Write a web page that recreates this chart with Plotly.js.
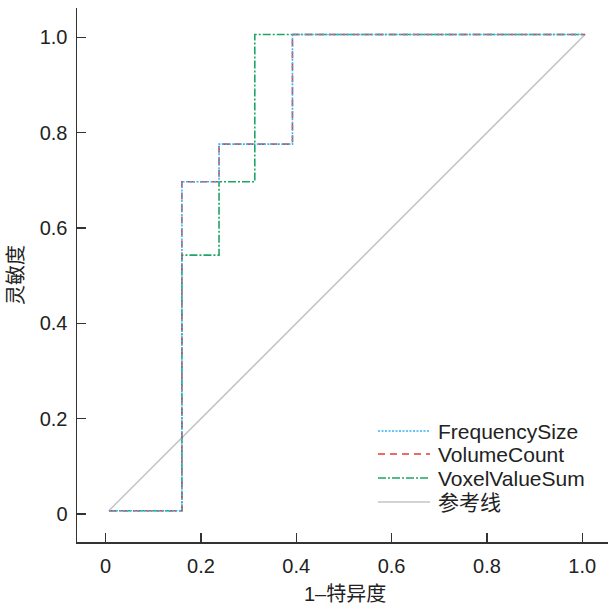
<!DOCTYPE html>
<html>
<head>
<meta charset="utf-8">
<script src="https://cdn.plot.ly/plotly-3.0.1.min.js"></script>
<style>html,body{margin:0;padding:0;background:#fff;}#chart{width:608px;height:607px;}</style>
</head>
<body>
<div id="chart"></div>
<script>
// Data (ROC step curves)
const seriesNames = ["FrequencySize", "VolumeCount", "VoxelValueSum", "参考线"];
const freqX = [0.007, 0.160, 0.160, 0.238, 0.238, 0.392, 0.392, 1.006];
const freqY = [0.007, 0.007, 0.697, 0.697, 0.776, 0.776, 1.006, 1.006];
const volX  = [0.007, 0.160, 0.160, 0.238, 0.238, 0.392, 0.392, 1.006];
const volY  = [0.007, 0.007, 0.697, 0.697, 0.776, 0.776, 1.006, 1.006];
const voxX  = [0.007, 0.160, 0.160, 0.238, 0.238, 0.313, 0.313, 1.006];
const voxY  = [0.007, 0.007, 0.543, 0.543, 0.697, 0.697, 1.006, 1.006];
const refX  = [0.007, 1.006];
const refY  = [0.007, 1.006];
const tickVals = [0, 0.2, 0.4, 0.6, 0.8, 1.0];
const tickText = ["0", "0.2", "0.4", "0.6", "0.8", "1.0"];
const xTitle = "1–特异度";
const yTitle = "灵敏度";

const fam = "'Liberation Sans', Arial, 'Noto Sans CJK SC', sans-serif";
const txtColor = "#222";

const styles = {
  FrequencySize: {color: "#36b4ef", width: 1.6, dash: "2px,1.5px"},
  VolumeCount:   {color: "#e63b36", width: 1.6, dash: "7px,5px"},
  VoxelValueSum: {color: "#1ea565", width: 1.6, dash: "8px,2px,2px,2px"},
  "参考线":       {color: "#c4c4c4", width: 1.5, dash: "solid"}
};

const traces = [
  {x: refX, y: refY, name: seriesNames[3], mode: "lines", line: styles["参考线"]},
  {x: voxX, y: voxY, name: seriesNames[2], mode: "lines", line: styles.VoxelValueSum},
  {x: volX, y: volY, name: seriesNames[1], mode: "lines", line: styles.VolumeCount},
  {x: freqX, y: freqY, name: seriesNames[0], mode: "lines", line: styles.FrequencySize}
];

// Plot area in pixels (for placing the hand-built legend and titles)
const W = 608, H = 607, mL = 77, mR = 0, mT = 8, mB = 65;
const pw = W - mL - mR, ph = H - mT - mB;
const px = v => (v - mL) / pw;
const py = v => (H - mB - v) / ph;
const legRowsPx = [431, 454, 478, 502];
const legLineX0 = 378, legLineX1 = 430, legTextX = 436;

const shapes = [], annotations = [];
seriesNames.forEach((n, i) => {
  const st = styles[n];
  shapes.push({type: "line", xref: "paper", yref: "paper",
    x0: px(legLineX0), x1: px(legLineX1), y0: py(legRowsPx[i]), y1: py(legRowsPx[i]),
    line: {color: st.color, width: st.width, dash: st.dash}});
  annotations.push({xref: "paper", yref: "paper", x: px(legTextX), y: py(legRowsPx[i]),
    xanchor: "left", yanchor: "middle", showarrow: false, text: n,
    font: {family: fam, size: 21, color: txtColor}});
});
// axis titles
annotations.push({xref: "paper", yref: "paper", x: px(345), y: py(594),
  xanchor: "center", yanchor: "middle", showarrow: false, text: xTitle,
  font: {family: fam, size: 20, color: txtColor}});
annotations.push({xref: "paper", yref: "paper", x: px(16), y: py(275),
  xanchor: "center", yanchor: "middle", showarrow: false, text: yTitle, textangle: -90,
  font: {family: fam, size: 20, color: txtColor}});

const layout = {
  width: W, height: H,
  margin: {l: mL, r: mR, t: mT, b: mB},
  paper_bgcolor: "#fff", plot_bgcolor: "#fff",
  font: {family: fam, size: 20, color: txtColor},
  showlegend: false,
  shapes: shapes,
  annotations: annotations,
  xaxis: {
    range: [-0.060, 1.054],
    tickvals: tickVals, ticktext: tickText,
    ticks: "inside", ticklen: 9, tickwidth: 1.2, tickcolor: "#333",
    showline: true, linecolor: "#333", linewidth: 1.5,
    showgrid: false, zeroline: false,
    tickfont: {family: fam, size: 20, color: txtColor},
    ticklabelstandoff: 5
  },
  yaxis: {
    range: [-0.0587, 1.0615],
    tickvals: tickVals, ticktext: tickText,
    ticks: "inside", ticklen: 9, tickwidth: 1.2, tickcolor: "#333",
    showline: true, linecolor: "#333", linewidth: 1.5,
    showgrid: false, zeroline: false,
    tickfont: {family: fam, size: 20, color: txtColor},
    ticklabelstandoff: 4
  }
};

Plotly.newPlot("chart", traces, layout, {displayModeBar: false, staticPlot: true});
</script>
</body>
</html>
